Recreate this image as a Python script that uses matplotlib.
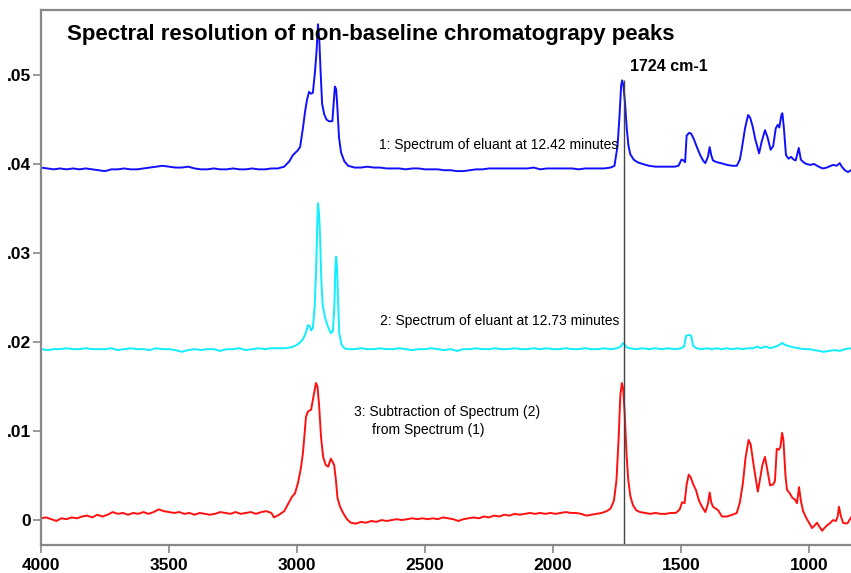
import matplotlib
matplotlib.use("Agg")
import matplotlib.pyplot as plt

plt.rcParams['font.family'] = ['Liberation Sans', 'DejaVu Sans']

# Spectrum 1 (eluant at 12.42 min) - wavenumber / absorbance
wn1 = [4000, 3975, 3950, 3925, 3900, 3875, 3850, 3825, 3800, 3775, 3750, 3725, 3700, 3675,
       3650, 3625, 3600, 3575, 3550, 3525, 3500, 3475, 3450, 3425, 3400, 3375, 3350, 3325,
       3300, 3275, 3250, 3225, 3200, 3175, 3150, 3125, 3100, 3075, 3050, 3030, 3016, 2998,
       2988, 2977, 2968, 2961, 2953, 2945, 2938, 2930, 2924, 2918, 2913, 2908, 2902, 2894,
       2885, 2875, 2862, 2855, 2852, 2847, 2842, 2836, 2828, 2815, 2800, 2775, 2750, 2725,
       2700, 2675, 2650, 2625, 2600, 2575, 2550, 2525, 2500, 2475, 2450, 2425, 2400, 2375,
       2350, 2325, 2300, 2275, 2250, 2225, 2200, 2175, 2150, 2125, 2100, 2075, 2050, 2025,
       2000, 1975, 1950, 1925, 1900, 1875, 1850, 1825, 1800, 1775, 1760, 1748, 1740, 1734,
       1730, 1725, 1719, 1712, 1705, 1698, 1685, 1670, 1650, 1625, 1600, 1575, 1550, 1525,
       1510, 1498, 1490, 1484, 1478, 1468, 1460, 1450, 1438, 1425, 1412, 1405, 1395, 1388,
       1382, 1375, 1360, 1345, 1320, 1300, 1282, 1270, 1262, 1250, 1238, 1230, 1220, 1210,
       1195, 1185, 1172, 1162, 1150, 1140, 1130, 1122, 1116, 1108, 1104, 1098, 1090, 1080,
       1070, 1060, 1052, 1040, 1032, 1022, 1010, 995, 980, 968, 955, 945, 930, 915,
       905, 892, 880, 872, 860, 848, 836]
abs1 = [0.0396, 0.0395, 0.0394, 0.0395, 0.0394, 0.0395, 0.0394, 0.0395, 0.0394, 0.0393, 0.0392, 0.0394, 0.0394, 0.0395,
        0.0394, 0.0394, 0.0395, 0.0396, 0.0397, 0.0398, 0.0397, 0.0396, 0.0396, 0.0397, 0.0395, 0.0394, 0.0394, 0.0395,
        0.0394, 0.0394, 0.0395, 0.0394, 0.0394, 0.0395, 0.0394, 0.0394, 0.0395, 0.0395, 0.0397, 0.0403, 0.0410, 0.0415,
        0.0419, 0.0440, 0.0460, 0.0472, 0.0481, 0.0479, 0.0480, 0.0503, 0.0525, 0.0557, 0.0540, 0.0505, 0.0468, 0.0456,
        0.0450, 0.0448, 0.0448, 0.0475, 0.0487, 0.0484, 0.0462, 0.0430, 0.0413, 0.0403, 0.0398, 0.0396, 0.0396, 0.0397,
        0.0396, 0.0396, 0.0395, 0.0395, 0.0395, 0.0394, 0.0395, 0.0395, 0.0394, 0.0394, 0.0394, 0.0393, 0.0393, 0.0392,
        0.0392, 0.0393, 0.0394, 0.0394, 0.0395, 0.0395, 0.0395, 0.0395, 0.0395, 0.0395, 0.0395, 0.0396, 0.0394, 0.0395,
        0.0395, 0.0395, 0.0395, 0.0395, 0.0394, 0.0395, 0.0395, 0.0395, 0.0395, 0.0396, 0.0398, 0.0420, 0.0455, 0.0488,
        0.0494, 0.0488, 0.0470, 0.0440, 0.0420, 0.0411, 0.0405, 0.0402, 0.0400, 0.0398, 0.0397, 0.0397, 0.0397, 0.0397,
        0.0398, 0.0405, 0.0404, 0.0402, 0.0432, 0.0435, 0.0434, 0.0428, 0.0419, 0.0410, 0.0403, 0.0401, 0.0408, 0.0419,
        0.0410, 0.0404, 0.0402, 0.0401, 0.0399, 0.0398, 0.0398, 0.0405, 0.0418, 0.0440, 0.0455, 0.0452, 0.0442, 0.0428,
        0.0412, 0.0425, 0.0438, 0.0430, 0.0416, 0.0420, 0.0440, 0.0444, 0.0441, 0.0455, 0.0457, 0.0440, 0.0410, 0.0406,
        0.0408, 0.0405, 0.0404, 0.0418, 0.0405, 0.0402, 0.0400, 0.0399, 0.0400, 0.0398, 0.0396, 0.0395, 0.0396, 0.0398,
        0.0399, 0.0398, 0.0401, 0.0397, 0.0393, 0.0391, 0.0393]

# Spectrum 2 (eluant at 12.73 min)
wn2 = [4000, 3975, 3950, 3925, 3900, 3875, 3850, 3825, 3800, 3775, 3750, 3725, 3700, 3675,
       3650, 3625, 3600, 3575, 3550, 3525, 3500, 3475, 3450, 3425, 3400, 3375, 3350, 3325,
       3300, 3275, 3250, 3225, 3200, 3175, 3150, 3125, 3100, 3075, 3050, 3025, 3005, 2990,
       2977, 2966, 2957, 2951, 2945, 2938, 2931, 2926, 2921, 2918, 2914, 2910, 2905, 2900,
       2891, 2880, 2868, 2860, 2854, 2850, 2847, 2843, 2839, 2835, 2826, 2815, 2800, 2775,
       2750, 2725, 2700, 2675, 2650, 2625, 2600, 2575, 2550, 2525, 2500, 2475, 2450, 2425,
       2400, 2375, 2350, 2325, 2300, 2275, 2250, 2225, 2200, 2175, 2150, 2125, 2100, 2075,
       2050, 2025, 2000, 1975, 1950, 1925, 1900, 1875, 1850, 1825, 1800, 1775, 1750, 1735,
       1727, 1720, 1712, 1700, 1675, 1650, 1625, 1600, 1575, 1550, 1525, 1500, 1488, 1480,
       1470, 1460, 1453, 1440, 1420, 1400, 1380, 1360, 1340, 1320, 1300, 1280, 1260, 1240,
       1220, 1200, 1190, 1170, 1150, 1120, 1105, 1095, 1085, 1060, 1040, 1020, 1000, 980,
       960, 945, 920, 900, 880, 860, 836]
abs2 = [0.0192, 0.0191, 0.0192, 0.0192, 0.0193, 0.0192, 0.0192, 0.0193, 0.0192, 0.0192, 0.0192, 0.0193, 0.0191, 0.0192,
        0.0193, 0.0192, 0.0192, 0.0191, 0.0193, 0.0192, 0.0192, 0.0191, 0.0189, 0.0191, 0.0192, 0.0191, 0.0192, 0.0192,
        0.0190, 0.0192, 0.0192, 0.0193, 0.0191, 0.0192, 0.0193, 0.0192, 0.0193, 0.0193, 0.0193, 0.0194, 0.0196, 0.0199,
        0.0203, 0.0210, 0.0219, 0.0218, 0.0213, 0.0216, 0.0240, 0.0275, 0.0330, 0.0356, 0.0345, 0.0320, 0.0270, 0.0242,
        0.0228, 0.0218, 0.0210, 0.0212, 0.0240, 0.0285, 0.0296, 0.0280, 0.0240, 0.0210, 0.0197, 0.0193, 0.0192, 0.0192,
        0.0193, 0.0192, 0.0192, 0.0193, 0.0192, 0.0192, 0.0193, 0.0192, 0.0191, 0.0192, 0.0192, 0.0193, 0.0192, 0.0191,
        0.0192, 0.0190, 0.0192, 0.0192, 0.0193, 0.0192, 0.0192, 0.0193, 0.0192, 0.0192, 0.0193, 0.0192, 0.0192, 0.0193,
        0.0192, 0.0193, 0.0192, 0.0192, 0.0193, 0.0192, 0.0192, 0.0193, 0.0192, 0.0192, 0.0193, 0.0192, 0.0193, 0.0195,
        0.0199, 0.0197, 0.0194, 0.0193, 0.0192, 0.0193, 0.0192, 0.0193, 0.0192, 0.0193, 0.0192, 0.0193, 0.0195, 0.0207,
        0.0208, 0.0207, 0.0196, 0.0193, 0.0192, 0.0193, 0.0192, 0.0193, 0.0192, 0.0193, 0.0192, 0.0193, 0.0192, 0.0193,
        0.0193, 0.0195, 0.0193, 0.0195, 0.0193, 0.0196, 0.0199, 0.0197, 0.0196, 0.0194, 0.0193, 0.0192, 0.0192, 0.0191,
        0.0190, 0.0189, 0.0190, 0.0191, 0.0190, 0.0192, 0.0193]

# Spectrum 3 = (1) - (2)
wn3 = [4000, 3980, 3960, 3940, 3920, 3900, 3880, 3860, 3840, 3820, 3800, 3780, 3760, 3740,
       3720, 3700, 3680, 3660, 3640, 3620, 3600, 3580, 3560, 3540, 3520, 3500, 3480, 3460,
       3440, 3420, 3400, 3380, 3360, 3340, 3320, 3300, 3280, 3260, 3240, 3220, 3200, 3180,
       3160, 3140, 3120, 3100, 3090, 3070, 3050, 3035, 3020, 3008, 2996, 2985, 2977, 2970,
       2965, 2957, 2945, 2935, 2926, 2920, 2914, 2906, 2898, 2888, 2878, 2868, 2862, 2855,
       2848, 2842, 2832, 2820, 2805, 2790, 2770, 2750, 2730, 2710, 2690, 2670, 2650, 2630,
       2610, 2590, 2570, 2550, 2530, 2510, 2490, 2470, 2450, 2430, 2410, 2390, 2370, 2350,
       2330, 2310, 2290, 2270, 2250, 2230, 2210, 2190, 2170, 2150, 2130, 2110, 2090, 2070,
       2050, 2030, 2010, 1990, 1970, 1950, 1930, 1910, 1890, 1870, 1850, 1830, 1810, 1790,
       1775, 1762, 1752, 1744, 1737, 1731, 1726, 1720, 1713, 1706, 1698, 1688, 1675, 1660,
       1640, 1620, 1600, 1580, 1560, 1540, 1520, 1505, 1496, 1486, 1478, 1470, 1462, 1452,
       1442, 1430, 1418, 1405, 1395, 1388, 1382, 1375, 1365, 1355, 1340, 1320, 1300, 1282,
       1270, 1258, 1248, 1236, 1228, 1219, 1210, 1200, 1192, 1182, 1172, 1162, 1152, 1140,
       1133, 1126, 1118, 1112, 1105, 1100, 1092, 1086, 1075, 1065, 1055, 1047, 1039, 1032,
       1023, 1010, 998, 988, 978, 969, 958, 949, 940, 930, 920, 906, 895, 888,
       883, 876, 867, 855, 848, 836]
abs3 = [0.0002, 0.0003, 0.0001, -0.0001, 0.0002, 0.0001, 0.0003, 0.0002, 0.0004, 0.0005, 0.0003, 0.0006, 0.0004, 0.0006,
        0.0009, 0.0007, 0.0008, 0.0006, 0.0008, 0.0007, 0.0009, 0.0007, 0.0009, 0.0012, 0.0010, 0.0009, 0.0008, 0.0009,
        0.0007, 0.0008, 0.0006, 0.0008, 0.0007, 0.0006, 0.0007, 0.0009, 0.0008, 0.0007, 0.0009, 0.0007, 0.0008, 0.0009,
        0.0007, 0.0009, 0.0010, 0.0008, 0.0003, 0.0006, 0.0010, 0.0018, 0.0026, 0.0030, 0.0042, 0.0058, 0.0075, 0.0098,
        0.0116, 0.0122, 0.0124, 0.0140, 0.0154, 0.0150, 0.0130, 0.0093, 0.0071, 0.0062, 0.0060, 0.0069, 0.0066, 0.0062,
        0.0045, 0.0025, 0.0015, 0.0008, 0.0001, -0.0003, -0.0004, -0.0002, -0.0003, -0.0001, -0.0002, 0.0000, -0.0001, 0.0000,
        0.0001, 0.0000, 0.0001, 0.0002, 0.0001, 0.0002, 0.0001, 0.0002, 0.0001, 0.0003, 0.0002, 0.0001, -0.0001, 0.0001,
        0.0002, 0.0003, 0.0002, 0.0004, 0.0003, 0.0005, 0.0004, 0.0006, 0.0005, 0.0007, 0.0006, 0.0007, 0.0008, 0.0007,
        0.0008, 0.0007, 0.0008, 0.0007, 0.0008, 0.0009, 0.0008, 0.0008, 0.0007, 0.0005, 0.0006, 0.0007, 0.0008, 0.0010,
        0.0013, 0.0022, 0.0045, 0.0090, 0.0140, 0.0154, 0.0148, 0.0120, 0.0075, 0.0045, 0.0027, 0.0017, 0.0011, 0.0009,
        0.0008, 0.0007, 0.0008, 0.0007, 0.0007, 0.0008, 0.0008, 0.0012, 0.0020, 0.0019, 0.0040, 0.0051, 0.0048, 0.0040,
        0.0034, 0.0022, 0.0015, 0.0009, 0.0018, 0.0031, 0.0020, 0.0015, 0.0013, 0.0011, 0.0004, 0.0004, 0.0006, 0.0008,
        0.0020, 0.0042, 0.0070, 0.0090, 0.0085, 0.0067, 0.0050, 0.0032, 0.0045, 0.0062, 0.0071, 0.0055, 0.0039, 0.0040,
        0.0044, 0.0080, 0.0079, 0.0082, 0.0098, 0.0090, 0.0050, 0.0034, 0.0030, 0.0025, 0.0023, 0.0019, 0.0037, 0.0022,
        0.0010, 0.0002, -0.0004, -0.0009, -0.0006, -0.0003, -0.0008, -0.0012, -0.0009, -0.0006, -0.0004, 0.0000, -0.0001, 0.0004,
        0.0015, 0.0005, -0.0003, -0.0004, -0.0003, 0.0003]

marker_wn = 1724
marker_top = 0.0494
yticks = [0, 0.01, 0.02, 0.03, 0.04, 0.05]
ytick_labels = ['0', '.01', '.02', '.03', '.04', '.05']
xticks = [4000, 3500, 3000, 2500, 2000, 1500, 1000]

fig = plt.figure(figsize=(8.51, 5.73), dpi=100)
ax = fig.add_axes([41 / 851, 28 / 573, 1 - 41 / 851, 535 / 573])

ax.plot(wn1, abs1, color='#1010ff', lw=1.4)
ax.plot(wn2, abs2, color='#10eeff', lw=1.4)
ax.plot(wn3, abs3, color='#ff1010', lw=1.4)
ax.vlines(marker_wn, -0.0028, marker_top, color='#444444', lw=1)

ax.set_xlim(4000, 836)
ax.set_ylim(-0.0028, 0.0573)

ax.set_yticks(yticks)
ax.set_yticklabels(ytick_labels)
ax.set_xticks(xticks)
ax.tick_params(axis='both', colors='#888888', labelcolor='black', length=6, width=1.2,
               labelsize=12.5)
ax.tick_params(axis='y', pad=1)
ax.tick_params(axis='x', pad=3)
for lab in ax.get_xticklabels() + ax.get_yticklabels():
    lab.set_fontweight('bold')

for side in ['left', 'bottom', 'top']:
    ax.spines[side].set_color('#888888')
    ax.spines[side].set_linewidth(1.6)
ax.spines['right'].set_visible(False)

ax.text(3898, 0.0546, 'Spectral resolution of non-baseline chromatograpy peaks',
        fontsize=16, fontweight='bold', ha='left', va='center')
ax.text(1699, 0.0509, '1724 cm-1', fontsize=11.5, fontweight='bold', ha='left', va='center')
ax.text(2680, 0.0421, '1: Spectrum of eluant at 12.42 minutes', fontsize=10, ha='left', va='center')
ax.text(2676, 0.0224, '2: Spectrum of eluant at 12.73 minutes', fontsize=10, ha='left', va='center')
ax.text(2777, 0.0121, '3: Subtraction of Spectrum (2)', fontsize=10, ha='left', va='center')
ax.text(2707, 0.0101, 'from Spectrum (1)', fontsize=10, ha='left', va='center')

fig.savefig('out.png', dpi=100)
